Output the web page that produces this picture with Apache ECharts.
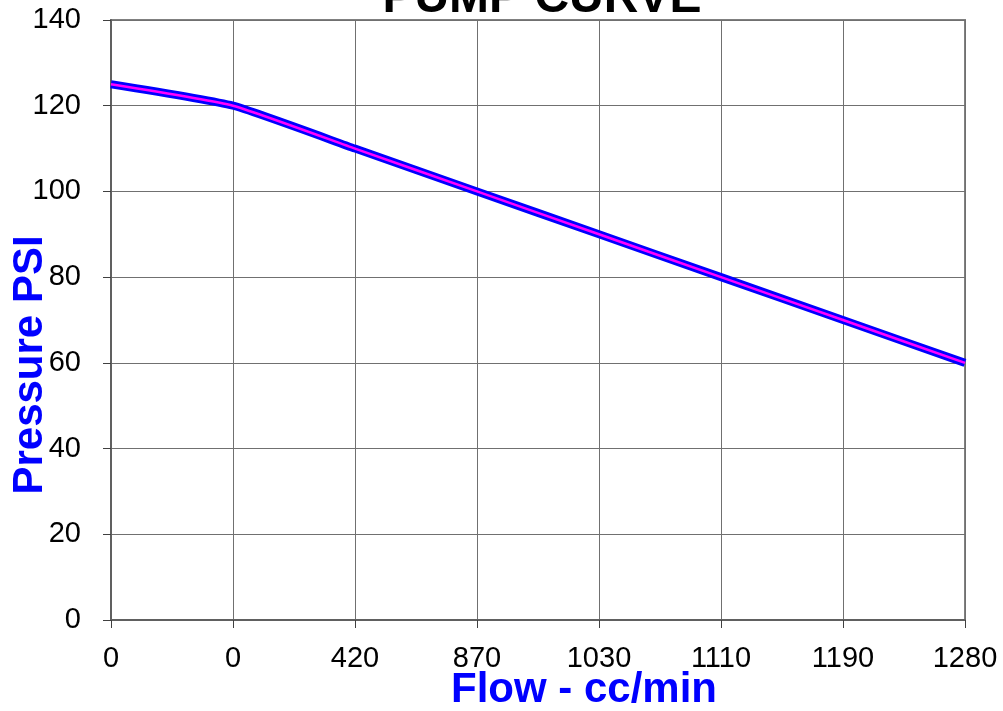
<!DOCTYPE html>
<html>
<head>
<meta charset="utf-8">
<script src="https://cdn.jsdelivr.net/npm/echarts@6/dist/echarts.min.js"></script>
<style>html,body{margin:0;padding:0;background:#fff}#c{width:1003px;height:711px}</style>
</head>
<body>
<div id="c"></div>
<script>
var flowCategories = ['0', '0', '420', '870', '1030', '1110', '1190', '1280'];
var pressureValues = [125, 120, 110, 100, 90, 80, 70, 60];
var yTicks = { min: 0, max: 140, interval: 20 };

var chart = echarts.init(document.getElementById('c'));
var font = 'Liberation Sans, Arial, sans-serif';
chart.setOption({
  animation: false,
  backgroundColor: '#ffffff',
  title: {
    text: 'PUMP CURVE',
    left: 537, top: -30, textAlign: 'center',
    textStyle: { fontFamily: font, fontWeight: 'bold', fontSize: 48, color: '#000' }
  },
  grid: { left: 111, right: 38, top: 20, bottom: 91, show: true, borderColor: '#808080', borderWidth: 2 },
  xAxis: {
    type: 'category', data: flowCategories, boundaryGap: false,
    axisLine: { show: true, lineStyle: { color: '#606060', width: 2 } },
    axisTick: { show: true, length: 8, alignWithLabel: true, lineStyle: { color: '#404040' } },
    axisLabel: { fontFamily: font, fontSize: 29, color: '#000', margin: 24 },
    splitLine: { show: true, lineStyle: { color: '#707070', width: 1 } }
  },
  yAxis: {
    type: 'value', min: yTicks.min, max: yTicks.max, interval: yTicks.interval,
    axisLine: { show: true, lineStyle: { color: '#606060', width: 2 } },
    axisTick: { show: true, length: 8, lineStyle: { color: '#404040' } },
    axisLabel: { fontFamily: font, fontSize: 29, color: '#000', margin: 30 },
    splitLine: { show: true, lineStyle: { color: '#707070', width: 1 } }
  },
  graphic: [
    { type: 'text', left: 451, top: 669, style: { text: 'Flow - cc/min', fontFamily: font, fontWeight: 'bold', fontSize: 42, fill: '#0000ff' } },
    { type: 'text', x: 9, y: 365, rotation: Math.PI / 2, style: { text: 'Pressure PSI', fontFamily: font, fontWeight: 'bold', fontSize: 42, fill: '#0000ff', align: 'center', verticalAlign: 'top' } }
  ],
  series: [
    { type: 'line', data: pressureValues, smooth: 0.15, showSymbol: false, lineStyle: { color: '#0000ff', width: 8 } },
    { type: 'line', data: pressureValues, smooth: 0.15, showSymbol: false, lineStyle: { color: '#ff00ff', width: 2.5 } }
  ]
});
</script>
</body>
</html>
